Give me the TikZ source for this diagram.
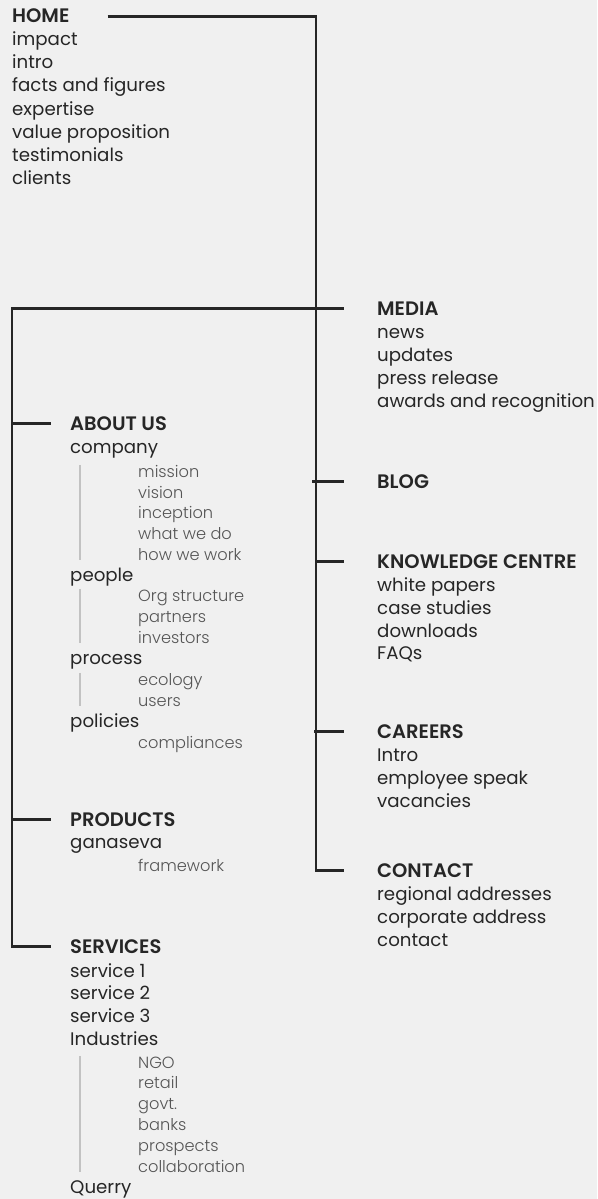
\documentclass[tikz,border=0pt]{standalone}
\usepackage{fontspec}
\setmainfont{Poppins}
\newfontfamily\semifont{Poppins SemiBold}
\newfontfamily\lightfont{Poppins Light}
\definecolor{paper}{HTML}{F0F0F0}
\definecolor{ink}{HTML}{262626}
\definecolor{subink}{HTML}{555555}
\definecolor{barcol}{HTML}{C2C2C2}
\tikzset{
  head/.style={anchor=base west, inner sep=0, text height=13pt, text depth=0pt, text=ink, font=\semifont\fontsize{19.5}{22}\selectfont},
  item/.style={anchor=base west, inner sep=0, text=ink, font=\fontsize{18.2}{21}\selectfont},
  sub/.style={anchor=base west, inner sep=0, text height=12pt, text depth=0pt, text=subink, font=\lightfont\fontsize{16.2}{19}\selectfont},
  trunk/.style={draw=ink, line width=2.5pt},
  rtick/.style={trunk, shorten >=33pt},
  ltick/.style={trunk, shorten >=19pt},
  bar/.style={draw=barcol, line width=2.5pt}
}
\begin{document}
\begin{tikzpicture}[x=1pt, y=-1pt]
            \fill[paper] (0,0) rectangle (597,1199);
            \useasboundingbox (0,0) rectangle (597,1199);
            \coordinate (rx) at (316,0);
            \coordinate (lx) at (12,0);
            \coordinate (bx) at (80,0);

            % home
            \node[head] (home) at (12,23) {HOME};
            \node[item] (impact) at (12,46) {impact};
            \node[item] (intro) at (12,69) {intro};
            \node[item] (facts) at (12,92) {facts and figures};
            \node[item] (expertise) at (12,115) {expertise};
            \node[item] (value) at (12,138) {value proposition};
            \node[item] (testimonials) at (12,161) {testimonials};
            \node[item] (clients) at (12,184) {clients};

            % right column
            \node[head] (media) at (377,315) {MEDIA};
            \node[item] (news) at (377,338) {news};
            \node[item] (updates) at (377,361) {updates};
            \node[item] (press) at (377,384) {press release};
            \node[item] (awards) at (377,407) {awards and recognition};
            \node[head] (blog) at (377,488) {BLOG};
            \node[head] (know) at (377,568) {KNOWLEDGE CENTRE};
            \node[item] (papers) at (377,591) {white papers};
            \node[item] (cases) at (377,614) {case studies};
            \node[item] (downloads) at (377,637) {downloads};
            \node[item] (faqs) at (377,659) {FAQs};
            \node[head] (careers) at (377,738) {CAREERS};
            \node[item] (cintro) at (377,761) {Intro};
            \node[item] (speak) at (377,784) {employee speak};
            \node[item] (vacancies) at (377,807) {vacancies};
            \node[head] (contact) at (377,877) {CONTACT};
            \node[item] (regional) at (377,900) {regional addresses};
            \node[item] (corporate) at (377,923) {corporate address};
            \node[item] (ccontact) at (377,946) {contact};

            % left column
            \node[head] (about) at (70,430) {ABOUT US};
            \node[item] (company) at (70,453) {company};
            \node[sub] (mission) at (138,477) {mission};
            \node[sub] (vision) at (138,498) {vision};
            \node[sub] (inception) at (138,518.5) {inception};
            \node[sub] (whatdo) at (138,539) {what we do};
            \node[sub] (howwork) at (138,560) {how we work};
            \node[item] (people) at (70,581) {people};
            \node[sub] (org) at (138,601) {Org structure};
            \node[sub] (partners) at (138,622) {partners};
            \node[sub] (investors) at (138,643) {investors};
            \node[item] (process) at (70,664) {process};
            \node[sub] (ecology) at (138,685) {ecology};
            \node[sub] (users) at (138,706) {users};
            \node[item] (policies) at (70,727) {policies};
            \node[sub] (compliances) at (138,748) {compliances};
            \node[head] (products) at (70,826) {PRODUCTS};
            \node[item] (ganaseva) at (70,848) {ganaseva};
            \node[sub] (framework) at (138,871) {framework};
            \node[head] (services) at (70,953) {SERVICES};
            \node[item] (serv1) at (70,977) {service 1};
            \node[item] (serv2) at (70,999) {service 2};
            \node[item] (serv3) at (70,1022) {service 3};
            \node[item] (industries) at (70,1045) {Industries};
            \node[sub] (ngo) at (138,1068) {NGO};
            \node[sub] (retail) at (138,1088) {retail};
            \node[sub] (govt) at (138,1109) {govt.};
            \node[sub] (banks) at (138,1130) {banks};
            \node[sub] (prospects) at (138,1151) {prospects};
            \node[sub] (collab) at (138,1172) {collaboration};
            \node[item] (querry) at (70,1193) {Querry};

            % trunks and ticks
            \draw[rtick] ([xshift=38pt]home.east) -| (rx |- contact.west) -- (contact.west);
            \draw[ltick] (rx |- media.west) -| (lx |- services.west) -- (services.west);
            \draw[rtick] (rx |- media.west) -- (media.west);
            \draw[rtick] ([xshift=-4pt]rx |- blog.west) -- (blog.west);
            \draw[rtick] (rx |- know.west) -- (know.west);
            \draw[rtick] ([xshift=-2pt]rx |- careers.west) -- (careers.west);
            \draw[ltick] (lx |- about.west) -- (about.west);
            \draw[ltick] (lx |- products.west) -- (products.west);

            % grey bars
            \draw[bar] (bx |- mission.north) -- (bx |- howwork.south);
            \draw[bar] (bx |- org.north) -- (bx |- investors.south);
            \draw[bar] (bx |- ecology.north) -- (bx |- users.south);
            \draw[bar] (bx |- ngo.north) -- (bx |- collab.south);

        \end{tikzpicture}
\end{document}
